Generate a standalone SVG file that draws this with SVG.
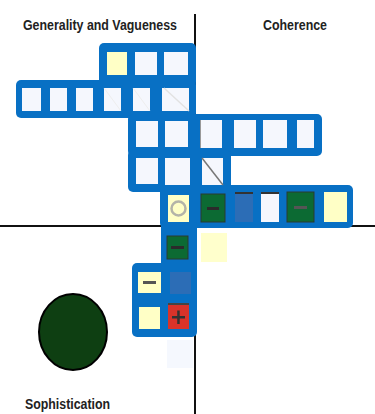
<svg xmlns="http://www.w3.org/2000/svg" width="375" height="414" viewBox="0 0 375 414">
<style>
.lbl{font-family:"Liberation Sans",Arial,sans-serif;font-weight:bold;font-size:14px;fill:#222}
.blue{fill:#0870C4}
.w{fill:#F5F7FD}
.y{fill:#FFFFC6}
.g{fill:#0C6A33;stroke:#2a3a30;stroke-width:1}
.b{fill:#2C6DB6}
.bar{fill:#2b2b2b}
</style>
<rect width="375" height="414" fill="#fff"/>
<g id="axes">
<line x1="195" y1="14" x2="195" y2="414" stroke="#111" stroke-width="2"/>
<line x1="0" y1="226" x2="375" y2="226" stroke="#111" stroke-width="2"/>
</g>
<g id="labels">
<text class="lbl" x="23" y="30" textLength="154" lengthAdjust="spacingAndGlyphs">Generality and Vagueness</text>
<text class="lbl" x="263" y="30" textLength="64" lengthAdjust="spacingAndGlyphs">Coherence</text>
<text class="lbl" x="25" y="409" textLength="85" lengthAdjust="spacingAndGlyphs">Sophistication</text>
</g>
<g id="blocks">
<rect class="blue" x="99" y="43" width="97" height="44" rx="5"/>
<rect class="blue" x="16" y="80" width="180" height="38" rx="5"/>
<rect class="blue" x="128" y="114" width="194" height="42" rx="5"/>
<rect class="blue" x="128" y="150" width="103" height="42" rx="5"/>
<rect class="blue" x="160" y="185" width="193" height="43" rx="5"/>
<rect class="blue" x="161" y="222" width="36" height="48" rx="3"/>
<rect class="blue" x="132" y="263" width="65" height="74" rx="5"/>
</g>
<g id="row1">
<rect class="y" x="107" y="52" width="20" height="23"/>
<rect class="w" x="135" y="52" width="22" height="23"/>
<rect class="w" x="164" y="52" width="24" height="23"/>
</g>
<g id="row2">
<rect class="w" x="22" y="88" width="19" height="23"/>
<rect class="w" x="50" y="88" width="17" height="23"/>
<rect class="w" x="76" y="88" width="17" height="23"/>
<rect class="w" x="104" y="88" width="17" height="23"/>
<line x1="104" y1="88" x2="121" y2="111" stroke="#eee" stroke-width="1"/>
<rect class="w" x="133" y="88" width="17" height="23"/>
<line x1="133" y1="88" x2="150" y2="111" stroke="#eee" stroke-width="1"/>
<rect class="w" x="162" y="88" width="27" height="23"/>
<line x1="164" y1="88" x2="189" y2="111" stroke="#e2e2e2" stroke-width="1.5"/>
</g>
<g id="row3">
<rect class="w" x="136" y="121" width="22" height="26"/>
<rect class="w" x="165" y="121" width="23" height="26"/>
<rect class="w" x="200" y="120" width="22" height="28"/>
<line x1="200.5" y1="120" x2="200.5" y2="148" stroke="#999" stroke-width="1"/>
<rect class="w" x="234" y="120" width="22" height="28"/>
<rect class="w" x="263" y="120" width="24" height="28"/>
<rect class="w" x="297" y="120" width="17" height="28"/>
</g>
<g id="row4">
<rect class="w" x="136" y="158" width="22" height="26"/>
<rect class="w" x="165" y="158" width="25" height="27"/>
<rect class="w" x="202" y="158" width="21" height="27"/>
<line x1="202" y1="158" x2="223" y2="185" stroke="#777" stroke-width="1.5"/>
</g>
<g id="row5">
<rect class="y" x="168" y="195" width="21" height="27"/>
<circle cx="178.5" cy="208.5" r="7" fill="none" stroke="#b4b4a8" stroke-width="2.5"/>
<rect class="g" x="201" y="194" width="24" height="28"/>
<rect class="bar" x="207" y="207" width="12" height="3"/>
<rect class="b" x="235" y="192" width="18" height="30"/>
<rect x="235" y="192" width="18" height="2" fill="#333"/>
<rect class="w" x="261" y="192" width="18" height="30"/>
<rect x="261" y="192" width="18" height="2" fill="#333"/>
<rect class="g" x="287" y="192" width="27" height="30"/>
<rect x="294" y="206" width="13" height="3" fill="#555"/>
<rect class="y" x="324" y="192" width="23" height="30"/>
</g>
<g id="row6">
<rect class="g" x="167" y="236" width="21" height="23"/>
<rect class="bar" x="171" y="246" width="13" height="3"/>
<rect x="201" y="233" width="26" height="29" fill="#FFFFCC"/>
</g>
<g id="row7">
<rect class="y" x="138" y="272" width="23" height="21"/>
<rect x="143" y="281" width="13" height="3" fill="#555"/>
<rect class="b" x="170" y="272" width="21" height="22"/>
</g>
<g id="row8">
<rect class="y" x="139" y="307" width="21" height="22"/>
<rect x="168" y="303" width="21" height="26" fill="#D9332A"/>
<rect x="168" y="303" width="21" height="2" fill="#444"/>
<rect x="172" y="316" width="13" height="2.5" fill="#333"/>
<rect x="177.2" y="310.5" width="2.5" height="13.5" fill="#333"/>
</g>
<g id="faint">
<rect x="167" y="340" width="26" height="28" fill="#F5F8FE"/>
</g>
<g id="circle">
<ellipse cx="73" cy="332" rx="34" ry="38" fill="#0E3F12" stroke="#000" stroke-width="2"/>
</g>
</svg>
